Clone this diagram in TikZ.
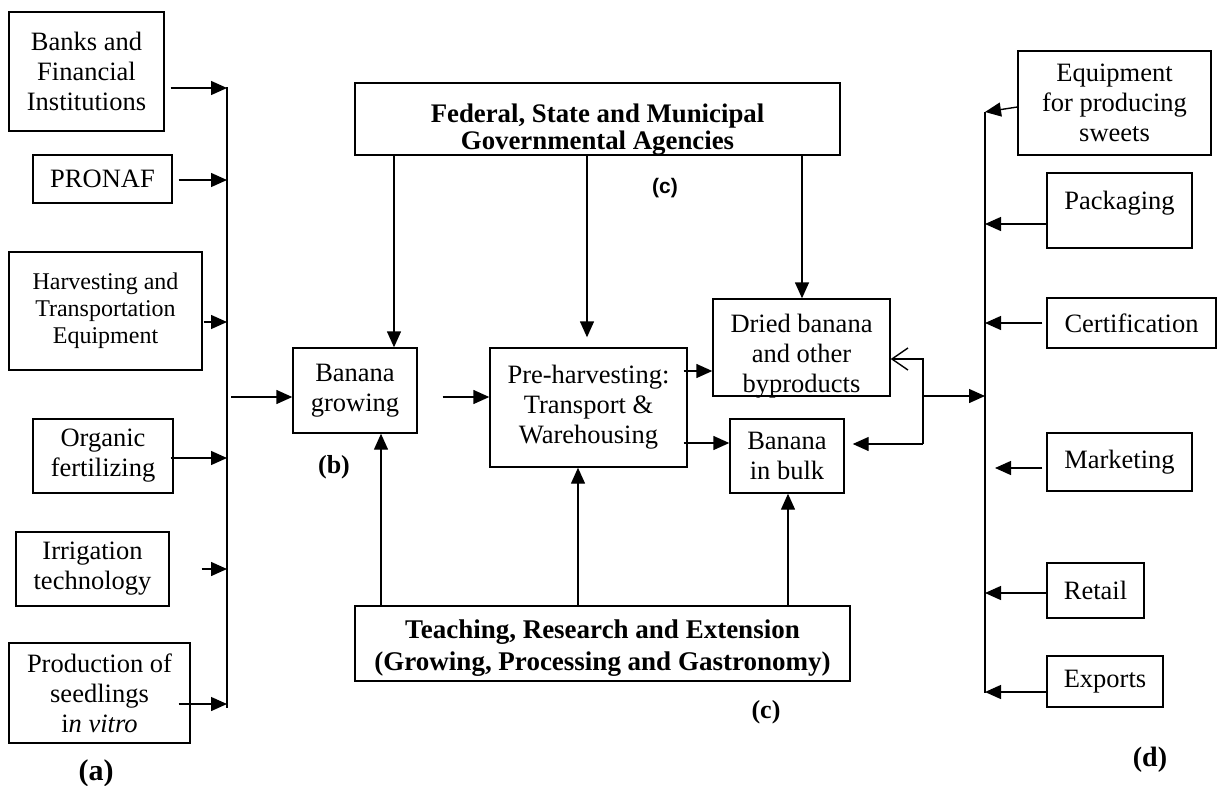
\documentclass[tikz,border=0pt]{standalone}
\usepackage{fontspec}
\setmainfont{Liberation Serif}
\newfontfamily\lsans{Liberation Sans}
\usetikzlibrary{arrows.meta,calc}
\begin{document}
\begin{tikzpicture}[x=1pt,y=-1pt,
  bx/.style={draw,line width=1.4pt,inner sep=0pt,align=center,font=\fontsize{26.5}{30}\selectfont},
  bbx/.style={bx,font=\fontsize{26.8}{27}\selectfont\bfseries},
  arr/.style={line width=1.4pt,-{Triangle[length=16pt,width=14pt]}},
  ln/.style={line width=1.4pt},
  lab/.style={font=\fontsize{26}{30}\selectfont\bfseries}]
\useasboundingbox (0,0) rectangle (1217,785);
% left column
\node[bx,minimum width=155pt,minimum height=119pt] (banks) at (86.5,71.5) {Banks and\\Financial\\Institutions};
\node[bx,minimum width=139pt,minimum height=48pt] (pronaf) at (102.5,179) {PRONAF};
\node[bx,minimum width=193pt,minimum height=118pt,font=\fontsize{24}{27}\selectfont] (harv) at (105.5,311) {Harvesting and\\Transportation\\Equipment};
\node[bx,minimum width=140pt,minimum height=74pt] (org) at (103,456) {Organic\\fertilizing};
\node[bx,minimum width=153pt,minimum height=74pt] (irr) at (92.5,569) {Irrigation\\technology};
\node[bx,minimum width=181pt,minimum height=100pt] (prod) at (99.5,693) {Production of\\seedlings\\i\textit{n vitro}};
% centre
\node[bbx,minimum width=485pt,minimum height=72pt,text height=61pt,text depth=0pt] (fed) at (597.5,119) {Federal, State and Municipal\\Governmental Agencies};
\node[bx,minimum width=124pt,minimum height=85pt] (grow) at (355,390.5) {Banana\\growing};
\node[bx,minimum width=197pt,minimum height=119pt] (pre) at (588.5,407.5) {Pre-harvesting:\\Transport \&\\Warehousing};
\node[bx,minimum width=177pt,minimum height=97pt,text height=89pt,text depth=0pt] (dried) at (801.5,347.5) {Dried banana\\and other\\byproducts};
\node[bx,minimum width=114pt,minimum height=74pt] (bulk) at (787,456) {Banana\\in bulk};
\node[bbx,font=\fontsize{27}{32}\selectfont\bfseries,minimum width=495pt,minimum height=75pt,text height=53pt,text depth=0pt] (teach) at (602.5,643.5) {Teaching, Research and Extension\\(Growing, Processing and Gastronomy)};
% right column
\node[bx,minimum width=193pt,minimum height=104pt] (equip) at (1114.5,103) {Equipment\\for producing\\sweets};
\node[bx,minimum width=145pt,minimum height=75pt,text height=0pt,text depth=3pt] (pack) at (1119.5,210.5) {Packaging};
\node[bx,minimum width=169pt,minimum height=50pt] (cert) at (1131.5,323) {Certification};
\node[bx,minimum width=145pt,minimum height=58pt] (mark) at (1119.5,462) {Marketing};
\node[bx,minimum width=97pt,minimum height=55pt] (retail) at (1095.5,590.5) {Retail};
\node[bx,minimum width=116pt,minimum height=51pt] (exp) at (1105,681.5) {Exports};
% labels
\node[lab,font=\fontsize{30}{32}\selectfont\bfseries] (la) at (96,773) {(a)};
\node[lab] (lb) at (334,467) {(b)};
\node[font=\lsans\fontsize{21}{24}\selectfont\bfseries] (lc1) at (665,188) {(c)};
\node[lab] (lc2) at (766,712) {(c)};
\node[lab,font=\fontsize{28}{30}\selectfont\bfseries] (ld) at (1150,760) {(d)};
% left bus
\coordinate (lbT) at (227,87);
\coordinate (lbB) at (227,708);
\draw[ln] (lbT) -- (lbB);
\coordinate (s1) at ($(banks.east)+(6,16.5)$);
\coordinate (s2) at ($(pronaf.east)+(6,1)$);
\coordinate (s3) at ($(harv.east)+(1,11)$);
\coordinate (s4) at ($(org.east)+(-3,2)$);
\coordinate (s5) at ($(irr.east)+(32,0)$);
\coordinate (s6) at ($(prod.east)+(-12,11)$);
\foreach \s in {s1,s2,s3,s4,s5,s6} \draw[arr] (\s) -- (lbT |- \s);
\coordinate (lg) at (231,397);
\draw[arr] (lg) -- (grow.west |- lg);
% right bus
\coordinate (rbT) at (985,112);
\coordinate (rbB) at (985,693);
\draw[ln] (rbT) -- (rbB);
\draw[arr] ($(equip.west)+(0,4)$) -- (rbT);
\coordinate (r2) at ($(pack.west)+(0,13.5)$);
\coordinate (r3) at ($(cert.west)+(-4,0)$);
\coordinate (r5) at ($(retail.west)+(0,2.5)$);
\coordinate (r6) at ($(exp.west)+(0,10.5)$);
\foreach \r in {r2,r3,r5,r6} \draw[arr] (\r) -- (rbT |- \r);
\coordinate (r4) at ($(mark.west)+(-4,6)$);
\draw[arr] (r4) -- ($(rbT |- r4)+(10,0)$);
% federal arrows
\coordinate (g1) at ($(grow.north)+(39,0)$);
\coordinate (g2) at ($(pre.north)+(-1.5,-10)$);
\coordinate (g3) at ($(dried.north)+(0.5,0)$);
\foreach \g in {g1,g2,g3} \draw[arr] (fed.south -| \g) -- (\g);
% teaching arrows
\coordinate (t1) at ($(grow.south)+(26,0)$);
\coordinate (t2) at ($(pre.south)+(-10.5,0)$);
\coordinate (t3) at ($(bulk.south)+(1,0)$);
\foreach \t in {t1,t2,t3} \draw[arr] (teach.north -| \t) -- (\t);
% growing -> pre
\coordinate (gp) at ($(grow.east)+(25,6.5)$);
\draw[arr] (gp) -- (pre.west |- gp);
% pre -> dried / bulk
\coordinate (p1) at ($(pre.east)+(-4,-36.5)$);
\coordinate (p2) at ($(pre.east)+(-4,35.5)$);
\draw[arr] (p1) -- (dried.west |- p1);
\draw[arr] (p2) -- (bulk.west |- p2);
% junction
\coordinate (j1) at (923,359);
\coordinate (j2) at (923,444);
\coordinate (j3) at (923,396);
\draw[ln,-{Straight Barb[length=16pt,width=22pt]}] (j2) -- (j1) -- (dried.east |- j1);
\draw[arr] (j2) -- ($(bulk.east |- j2)+(8,0)$);
\draw[arr] (j3) -- (rbT |- j3);
\end{tikzpicture}
\end{document}
